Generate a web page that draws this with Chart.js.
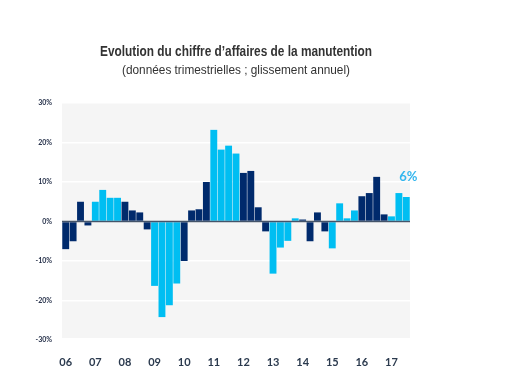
<!DOCTYPE html>
<html>
<head>
<meta charset="utf-8">
<script src="https://cdn.jsdelivr.net/npm/chart.js@4"></script>
<style>
html,body{margin:0;padding:0;background:#fff;}
#wrap{width:522px;height:375px;}
</style>
</head>
<body>
<div id="wrap"><canvas id="c" width="522" height="375"></canvas></div>
<script>
const titleText = "Evolution du chiffre d\u2019affaires de la manutention";
const subtitleText = "(donn\u00e9es trimestrielles ; glissement annuel)";
const yearLabels = ['06','07','08','09','10','11','12','13','14','15','16','17'];
const quartersPerYear = 4;
const values = [-7, -5, 5, -1, 5, 8, 6, 6, 5, 2.8, 2.3, -2, -16.3, -24.2, -21.2, -15.7,
  -10, 2.8, 3.1, 10, 23.2, 18.2, 19.2, 17.2, 12.3, 12.8, 3.6, -2.5, -13.2, -6.6, -4.9, 0.8,
  0.5, -5, 2.3, -2.5, -6.8, 4.6, 0.8, 2.8, 6.4, 7.2, 11.3, 1.8, 1.3, 7.2, 6.2];
const yTicks = [-30, -20, -10, 0, 10, 20, 30];
const lastLabel = Math.round(values[values.length - 1]) + '%';

const DARK = '#002A6C', LIGHT = '#00BEF2';

const categories = values.map((v, i) => yearLabels[Math.floor(i / quartersPerYear)] + 'T' + (i % quartersPerYear + 1));
const barColors = values.map((v, i) => Math.floor(i / quartersPerYear) % 2 === 0 ? DARK : LIGHT);

const bgPlugin = {
  id: 'bg',
  beforeDraw(chart) {
    const {ctx, chartArea: a} = chart;
    ctx.save();
    ctx.fillStyle = '#fff';
    ctx.fillRect(0, 0, chart.width, chart.height);
    ctx.fillStyle = '#F5F5F5';
    ctx.fillRect(a.left, a.top, a.right - a.left, a.bottom - a.top - 2);
    ctx.restore();
  }
};
const titlePlugin = {
  id: 'narrowTitle',
  afterDraw(chart) {
    const {ctx, chartArea: a} = chart;
    const cx = (a.left + a.right) / 2;
    ctx.save();
    ctx.fillStyle = '#333333';
    ctx.textAlign = 'center';
    ctx.textBaseline = 'middle';
    ctx.font = 'bold 14px "Liberation Sans", Arial, sans-serif';
    ctx.fillText(titleText, cx, 52, 272);
    ctx.font = '13px "Liberation Sans", Arial, sans-serif';
    ctx.fillText(subtitleText, cx, 70, 228);
    ctx.restore();
  }
};
const zeroLinePlugin = {
  id: 'zeroLine',
  afterDatasetsDraw(chart) {
    const {ctx, chartArea: a} = chart;
    const y = chart.scales.y.getPixelForValue(0);
    ctx.save();
    ctx.strokeStyle = '#44546A';
    ctx.lineWidth = 1.5;
    ctx.beginPath();
    ctx.moveTo(a.left, y);
    ctx.lineTo(a.right, y);
    ctx.stroke();
    const meta = chart.getDatasetMeta(0);
    const bar = meta.data[meta.data.length - 1];
    ctx.fillStyle = '#33B6EE';
    ctx.font = 'bold 13px Lato, "Liberation Sans", sans-serif';
    ctx.textAlign = 'center';
    ctx.textBaseline = 'middle';
    ctx.fillText(lastLabel, bar.x + 2, bar.y - 20);
    ctx.restore();
  }
};

new Chart(document.getElementById('c'), {
  type: 'bar',
  data: {
    labels: categories,
    datasets: [{
      data: values,
      backgroundColor: barColors,
      borderWidth: 0,
      barPercentage: 0.93,
      categoryPercentage: 1
    }]
  },
  options: {
    responsive: false,
    animation: false,
    layout: {padding: {left: 0, right: 112, top: 103, bottom: 0}},
    plugins: {
      legend: {display: false},
      tooltip: {enabled: false},
      title: {display: false},
      subtitle: {display: false}
    },
    scales: {
      x: {
        grid: {display: false},
        border: {display: false},
        ticks: {
          autoSkip: false,
          maxRotation: 0,
          padding: 8,
          color: '#2B3A4E',
          font: {family: 'Lato, "Liberation Sans", sans-serif', size: 11, weight: 'bold'},
          callback: (v, i) => i % quartersPerYear === 0 ? yearLabels[i / quartersPerYear] : ''
        },
        afterFit: s => { s.height = 35; }
      },
      y: {
        min: yTicks[0],
        max: yTicks[yTicks.length - 1],
        afterBuildTicks: s => { s.ticks = yTicks.map(v => ({value: v})); },
        grid: {color: '#FFFFFF', lineWidth: 1.5, drawTicks: false},
        border: {display: false},
        ticks: {
          padding: 10,
          color: '#1F2A44',
          font: {family: 'Lato, "Liberation Sans", sans-serif', size: 7, weight: 'bold'},
          callback: v => v + '%'
        },
        afterFit: s => { s.width = 62; }
      }
    }
  },
  plugins: [bgPlugin, titlePlugin, zeroLinePlugin]
});
</script>
</body>
</html>
